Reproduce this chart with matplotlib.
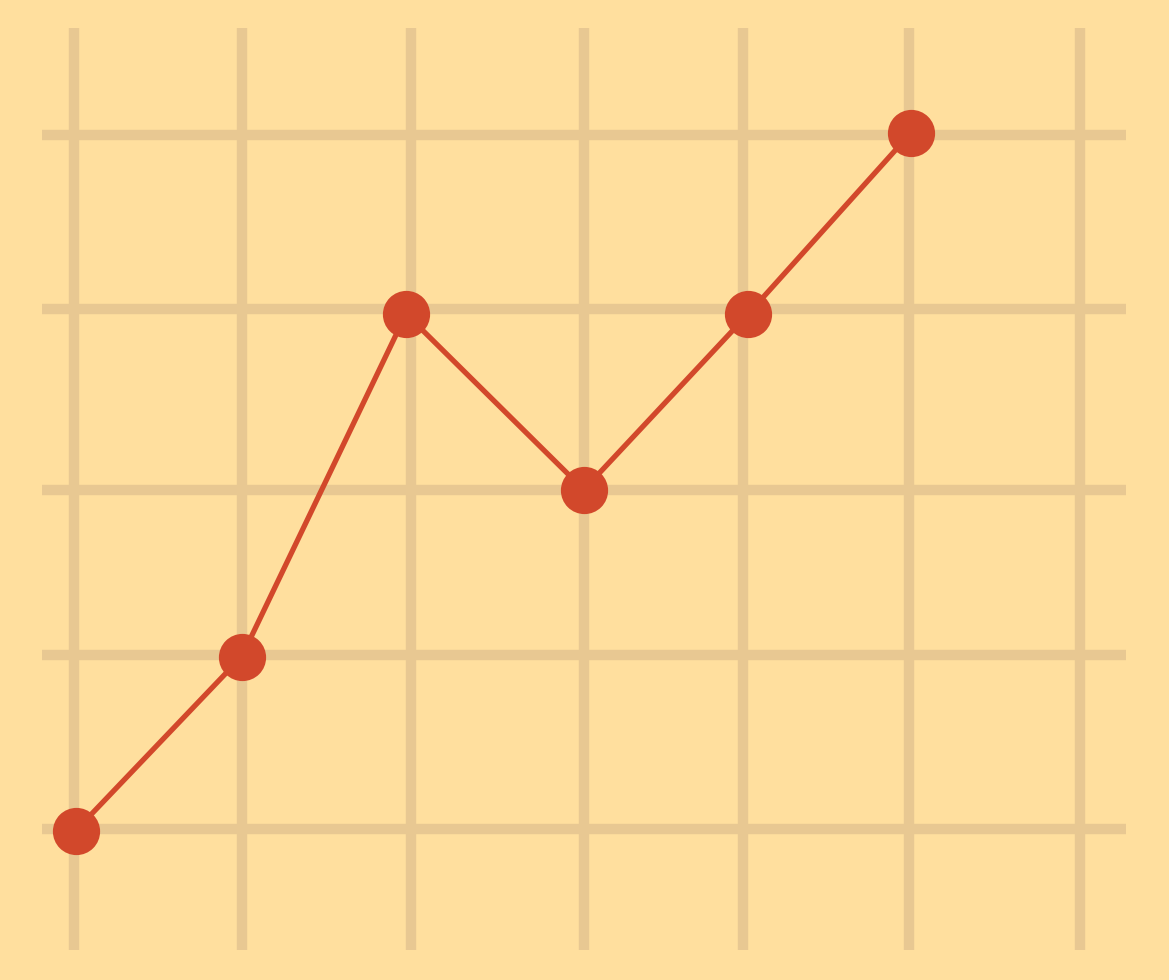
import matplotlib
matplotlib.use("Agg")
import matplotlib.pyplot as plt

# grid positions (data units)
grid_x = [0, 1.0, 2.01, 3.04, 3.99, 4.98, 6.0]
grid_y = [0, 1.0, 1.95, 2.99, 3.99]

# line series
pts_x = [0.01, 1.0, 1.98, 3.04, 4.02, 4.99]
pts_y = [-0.01, 0.99, 2.96, 1.95, 2.96, 4.0]

bg = "#FFDF9E"
grid_col = "#E8C892"
red = "#D2482B"

fig = plt.figure(figsize=(11.69, 9.8), dpi=100)
fig.patch.set_facecolor(bg)
ax = fig.add_axes([0, 0, 1, 1])
ax.set_facecolor(bg)
ax.set_xlim(-0.441, 6.529)
ax.set_ylim(-0.868, 4.764)
ax.axis("off")

for gx in grid_x:
    ax.plot([gx, gx], [-0.695, 4.603], color=grid_col, lw=7.5,
            solid_capstyle="butt", zorder=1)
for gy in grid_y:
    ax.plot([-0.191, 6.273], [gy, gy], color=grid_col, lw=7.5,
            solid_capstyle="butt", zorder=1)

ax.plot(pts_x, pts_y, color=red, lw=3.8, zorder=2)
ax.plot(pts_x, pts_y, "o", color=red, markersize=34, markeredgewidth=0, zorder=3)

fig.savefig("out.png", dpi=100, facecolor=bg)
